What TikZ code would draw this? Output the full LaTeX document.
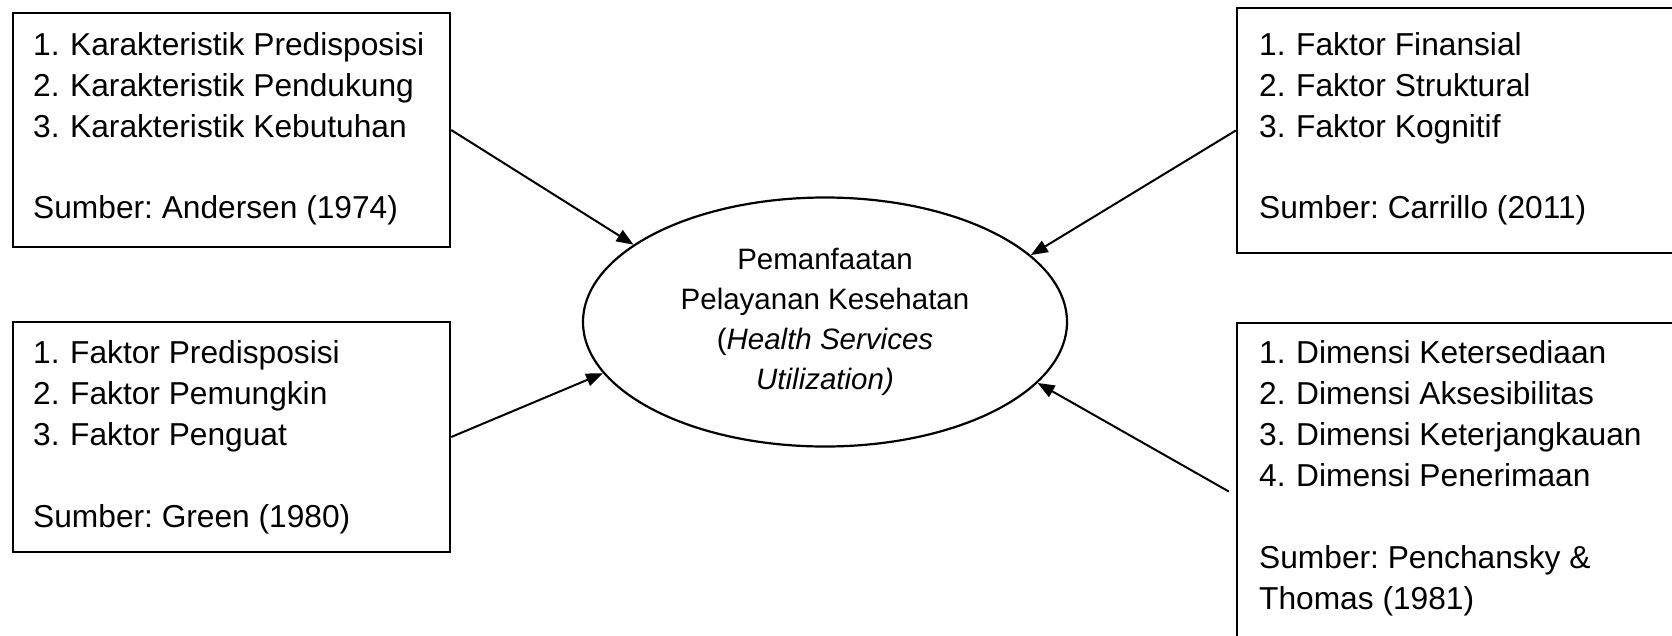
\documentclass[tikz,border=0pt]{standalone}
\usepackage{fontspec}
\setmainfont{Liberation Sans}
\usetikzlibrary{arrows.meta,shapes.geometric}
\frenchspacing
\newcommand\boxfs{\fontsize{31.7}{41}\selectfont}
\newcommand\ellfs{\fontsize{29.5}{40}\selectfont}
\newcommand\numlab[1]{\makebox[37pt][l]{#1}}
\tikzset{
  boxnode/.style={draw, line width=2.4pt, rectangle, inner sep=0pt},
  txt/.style={anchor=base west, inner sep=0pt, font=\boxfs},
  ellnode/.style={draw, line width=2.2pt, ellipse, inner sep=0pt, align=center, font=\ellfs},
  arr/.style={line width=2pt, -{Triangle[length=17pt,width=13pt]}}
}
\begin{document}
\begin{tikzpicture}[x=1pt,y=-1pt]
\useasboundingbox (0,0) rectangle (1672,635);
\clip (0,0) rectangle (1672,635);
\fill[white] (0,0) rectangle (1672,635);
% boxes
\node[boxnode, minimum width=437pt, minimum height=234pt] (b1) at (231.5,130) {};
\node[boxnode, minimum width=437pt, minimum height=230pt] (b2) at (231.5,437) {};
\node[boxnode, minimum width=453pt, minimum height=245pt] (b3) at (1463.5,130.5) {};
\node[boxnode, minimum width=453pt, minimum height=337pt] (b4) at (1463.5,491.5) {};
% box 1 text
\node[txt] (a1) at (33,55) {\numlab{1.}Karakteristik Predisposisi};
\node[txt] (a2) at (33,96) {\numlab{2.}Karakteristik Pendukung};
\node[txt] (a3) at (33,137) {\numlab{3.}Karakteristik Kebutuhan};
\node[txt] (a4) at (33,218) {Sumber: Andersen (1974)};
% box 2 text
\node[txt] (g1) at (33,363) {\numlab{1.}Faktor Predisposisi};
\node[txt] (g2) at (33,404) {\numlab{2.}Faktor Pemungkin};
\node[txt] (g3) at (33,445) {\numlab{3.}Faktor Penguat};
\node[txt] (g4) at (33,527) {Sumber: Green (1980)};
% box 3 text
\node[txt] (c1) at (1259,55) {\numlab{1.}Faktor Finansial};
\node[txt] (c2) at (1259,96) {\numlab{2.}Faktor Struktural};
\node[txt] (c3) at (1259,137) {\numlab{3.}Faktor Kognitif};
\node[txt] (c4) at (1259,218) {Sumber: Carrillo (2011)};
% box 4 text
\node[txt] (p1) at (1259,363) {\numlab{1.}Dimensi Ketersediaan};
\node[txt] (p2) at (1259,404) {\numlab{2.}Dimensi Aksesibilitas};
\node[txt] (p3) at (1259,445) {\numlab{3.}Dimensi Keterjangkauan};
\node[txt] (p4) at (1259,486) {\numlab{4.}Dimensi Penerimaan};
\node[txt] (p5) at (1259,568) {Sumber: Penchansky \&};
\node[txt] (p6) at (1259,609) {Thomas (1981)};
% central ellipse
\node[ellnode, minimum width=484pt, minimum height=249pt] (ell) at (825,322)
  {Pemanfaatan\\Pelayanan Kesehatan\\(\textit{Health Services}\\\textit{Utilization)}};
% arrows
\draw[arr] (b1.east) -- (ell.158);
\draw[arr] (b2.east) -- (ell.193.7);
\draw[arr] (b3.west) -- (ell.18.5);
\draw[arr] ([xshift=-7pt]b4.west) -- (ell.344.4);
\end{tikzpicture}
\end{document}
